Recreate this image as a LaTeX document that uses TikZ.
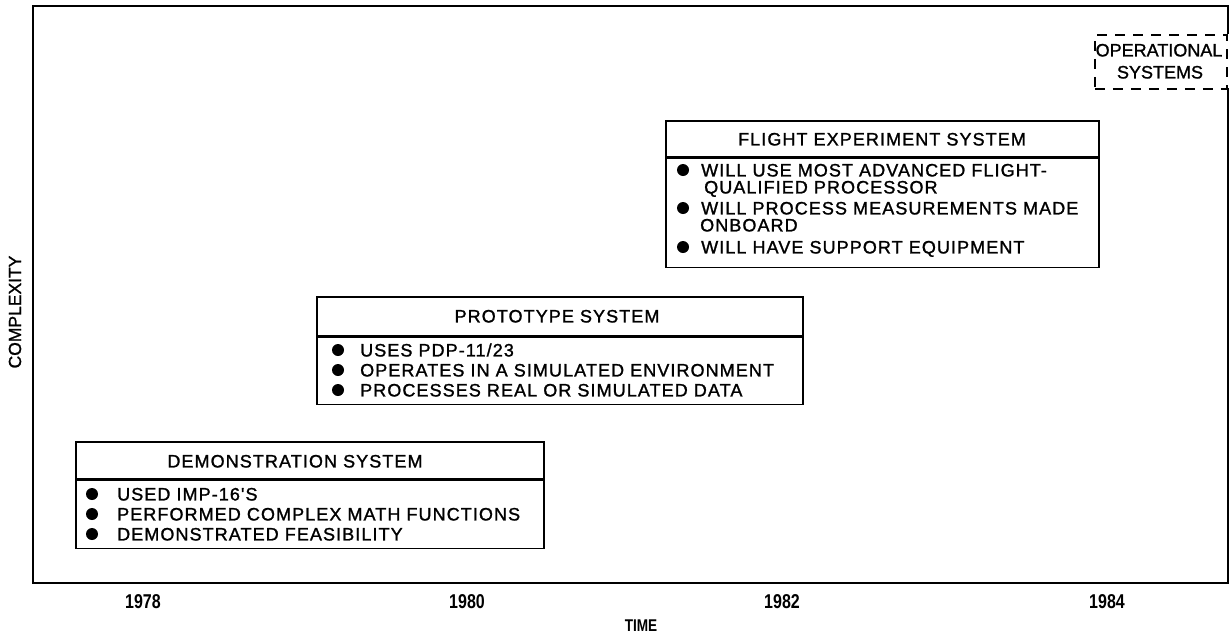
\documentclass[tikz,border=0pt]{standalone}
\usepackage{fontspec}
\setmainfont{Liberation Sans}
\newfontfamily\boxfamily[LetterSpace=6,FakeBold=1.3]{Liberation Sans}
\newfontfamily\plainfamily[FakeBold=1.2]{Liberation Sans}
\newfontfamily\yearfamily[FakeStretch=0.8,UprightFont={* Bold}]{Liberation Sans}

\tikzset{
  plotframe/.style={line width=2.5pt, line join=miter},
  panel/.style={draw, line width=1.7pt, inner sep=0pt, anchor=north west},
  boxhead/.style={font=\boxfamily\fontsize{18}{20}\selectfont, inner sep=0pt,
                  text height=12.9pt, text depth=0pt},
  boxentry/.style={boxhead, anchor=west},
  bulletdot/.style={circle, fill=black, draw=none, inner sep=0pt, minimum size=12pt},
  yearlabel/.style={font=\yearfamily\fontsize{20}{22}\selectfont, inner sep=0pt},
  axislabel/.style={font=\plainfamily\fontsize{17.5}{20}\selectfont, inner sep=0pt},
  futurebox/.style={draw, dash pattern=on 10pt off 8pt, line width=1.8pt,
                    inner sep=0pt, anchor=north west},
  plainlabel/.style={font=\plainfamily\fontsize{18}{20}\selectfont, inner sep=0pt,
                     text height=12.9pt, text depth=0pt},
}

\begin{document}
\begin{tikzpicture}[x=1pt,y=-1pt]
\useasboundingbox (0,0) rectangle (1231,638);

% plot frame, open on the right where the dashed box sits
\draw[plotframe] (1228,88) -- (1228,583) -- (33,583) -- (33,6) -- (1228,6) -- (1228,34);

% axis labels
\node[axislabel, rotate=90] (ylab) at (15,312) {COMPLEXITY};
\node[yearlabel] (y1978) at (143,602) {1978};
\node[yearlabel] (y1980) at (467,602) {1980};
\node[yearlabel] (y1982) at (782,602) {1982};
\node[yearlabel] (y1984) at (1107,602) {1984};
\node[yearlabel, font=\yearfamily\fontsize{17}{19}\selectfont] (xlab) at (641,626) {TIME};

% demonstration system
\node[panel, minimum width=468pt, minimum height=37pt] (demoHead) at (75,441) {};
\node[panel, minimum width=468pt, minimum height=68pt] (demoBody) at (demoHead.south west) {};
\node[boxhead] (demoTitle) at (295,461) {DEMONSTRATION SYSTEM};
\node[bulletdot] (demoB1) at (92,494) {};
\node[bulletdot] (demoB2) at (92,514) {};
\node[bulletdot] (demoB3) at (92,534) {};
\node[boxentry] (demoT1) at (117,494) {USED IMP-16'S};
\node[boxentry] (demoT2) at (117,514) {PERFORMED COMPLEX MATH FUNCTIONS};
\node[boxentry] (demoT3) at (117,534) {DEMONSTRATED FEASIBILITY};

% prototype system
\node[panel, minimum width=486pt, minimum height=39pt] (protoHead) at (316,296) {};
\node[panel, minimum width=486pt, minimum height=67pt] (protoBody) at (protoHead.south west) {};
\node[boxhead] (protoTitle) at (557,316) {PROTOTYPE SYSTEM};
\node[bulletdot] (protoB1) at (338,350) {};
\node[bulletdot] (protoB2) at (338,370) {};
\node[bulletdot] (protoB3) at (338,390) {};
\node[boxentry] (protoT1) at (360,350) {USES PDP-11/23};
\node[boxentry] (protoT2) at (360,370) {OPERATES IN A SIMULATED ENVIRONMENT};
\node[boxentry] (protoT3) at (360,390) {PROCESSES REAL OR SIMULATED DATA};

% flight experiment system
\node[panel, minimum width=433pt, minimum height=36pt] (flightHead) at (665,120) {};
\node[panel, minimum width=433pt, minimum height=109pt] (flightBody) at (flightHead.south west) {};
\node[boxhead] (flightTitle) at (882,139) {FLIGHT EXPERIMENT SYSTEM};
\node[bulletdot] (flightB1) at (683,170) {};
\node[bulletdot] (flightB2) at (683,208) {};
\node[bulletdot] (flightB3) at (683,247) {};
\node[boxentry] (flightT1) at (701,170) {WILL USE MOST ADVANCED FLIGHT-};
\node[boxentry] (flightT1b) at (704,187) {QUALIFIED PROCESSOR};
\node[boxentry] (flightT2) at (701,208) {WILL PROCESS MEASUREMENTS MADE};
\node[boxentry] (flightT2b) at (700,225) {ONBOARD};
\node[boxentry] (flightT3) at (701,247) {WILL HAVE SUPPORT EQUIPMENT};

% operational systems (future)
\node[futurebox, minimum width=132pt, minimum height=54pt] (opBox) at (1094,34) {};
\node[plainlabel] (opT1) at (1159,50) {OPERATIONAL};
\node[plainlabel] (opT2) at (1160,72) {SYSTEMS};
\end{tikzpicture}
\end{document}
